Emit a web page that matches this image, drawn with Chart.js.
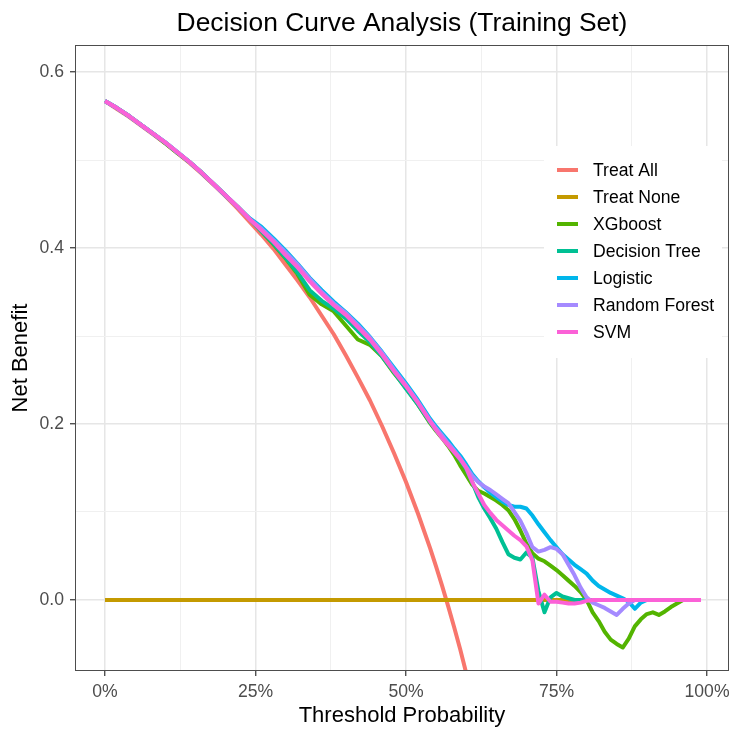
<!DOCTYPE html>
<html>
<head>
<meta charset="utf-8">
<script src="https://cdn.jsdelivr.net/npm/chart.js@4.4.1/dist/chart.umd.min.js"></script>
<style>
    html, body { margin: 0; padding: 0; background: #fff; }
    #wrap { width: 732px; height: 732px; }
</style>
</head>
<body>
<div id="wrap"><canvas id="dca-chart" width="732" height="732"></canvas></div>
<script>
// threshold probability (%) shared by the model curves
const thresholds = [0, 2, 4, 6, 8, 10, 12, 14, 16, 18, 20, 22, 24, 26, 28, 30, 32, 34, 36, 38, 40, 42, 44, 46, 48, 50, 52, 54,
    55, 56, 57, 58, 59, 60, 61, 62, 63, 64, 65, 66, 67, 68, 69, 70, 71, 72, 73, 74, 75, 76, 77, 78, 79,
    80, 81, 82, 83, 84, 85, 86, 87, 88, 89, 90, 91, 92, 93, 94, 95, 96, 97, 98, 99];

const treatAll = [0.567, 0.558, 0.549, 0.539, 0.529, 0.519, 0.508, 0.497, 0.485, 0.472, 0.459, 0.445, 0.430, 0.415,
    0.399, 0.381, 0.363, 0.344, 0.323, 0.302, 0.278, 0.253, 0.227, 0.198, 0.167, 0.134, 0.098, 0.059,
    0.038, 0.016, -0.007, -0.031, -0.056, -0.083, -0.110];

const treatNoneX = [0, 99];
const treatNone = [0, 0];

const xgboost = [0.567, 0.559, 0.550, 0.540, 0.530, 0.519, 0.508, 0.498, 0.486, 0.473, 0.460, 0.447, 0.433, 0.419,
    0.404, 0.388, 0.370, 0.347, 0.336, 0.328, 0.312, 0.296, 0.290, 0.277, 0.258, 0.241, 0.222, 0.201,
    0.192, 0.184, 0.175, 0.165, 0.153, 0.142, 0.131, 0.124, 0.121, 0.117, 0.113, 0.108, 0.102, 0.092, 0.079,
    0.064, 0.053, 0.047, 0.044, 0.039, 0.034, 0.028, 0.022, 0.016, 0.009, 0.000, -0.014, -0.024, -0.036,
    -0.045, -0.050, -0.054, -0.044, -0.030, -0.022, -0.016, -0.014, -0.017, -0.013, -0.008, -0.004, 0, 0, 0, 0];

const decisionTree = [0.567, 0.559, 0.550, 0.540, 0.530, 0.520, 0.509, 0.498, 0.486, 0.473, 0.460, 0.447, 0.433, 0.419,
    0.405, 0.389, 0.372, 0.352, 0.340, 0.331, 0.320, 0.306, 0.293, 0.277, 0.259, 0.240, 0.222, 0.202,
    0.193, 0.185, 0.177, 0.168, 0.159, 0.149, 0.134, 0.117, 0.104, 0.093, 0.081, 0.066, 0.052, 0.048, 0.046,
    0.054, 0.048, 0.010, -0.014, 0.003, 0.008, 0.004, 0.002, 0, 0, 0, 0, 0, 0, 0, 0, 0, 0, 0, 0, 0, 0, 0, 0,
    0, 0, 0, 0, 0, 0];

const logistic = [0.567, 0.559, 0.550, 0.540, 0.530, 0.520, 0.509, 0.498, 0.486, 0.473, 0.460, 0.447, 0.434, 0.424,
    0.411, 0.397, 0.382, 0.366, 0.352, 0.339, 0.327, 0.314, 0.299, 0.282, 0.264, 0.246, 0.227, 0.206,
    0.197, 0.189, 0.181, 0.172, 0.164, 0.154, 0.143, 0.135, 0.128, 0.122, 0.117, 0.112, 0.108, 0.106, 0.106,
    0.104, 0.096, 0.086, 0.077, 0.068, 0.060, 0.052, 0.046, 0.040, 0.035, 0.030, 0.022, 0.016, 0.012, 0.008,
    0.005, 0.002, -0.002, -0.010, -0.003, 0, 0, 0, 0, 0, 0, 0, 0, 0, 0];

const randomForest = [0.567, 0.559, 0.550, 0.540, 0.530, 0.520, 0.509, 0.498, 0.486, 0.473, 0.460, 0.447, 0.433, 0.422,
    0.409, 0.395, 0.381, 0.365, 0.350, 0.337, 0.326, 0.312, 0.298, 0.281, 0.262, 0.244, 0.225, 0.204,
    0.195, 0.187, 0.178, 0.170, 0.161, 0.151, 0.141, 0.134, 0.129, 0.125, 0.120, 0.115, 0.110, 0.100, 0.090,
    0.076, 0.060, 0.055, 0.057, 0.060, 0.058, 0.052, 0.040, 0.028, 0.014, 0.003, -0.003, -0.006, -0.009,
    -0.013, -0.017, -0.010, -0.004, 0, 0, 0, 0, 0, 0, 0, 0, 0, 0, 0, 0];

const svm = [0.567, 0.559, 0.550, 0.540, 0.530, 0.520, 0.509, 0.498, 0.486, 0.473, 0.460, 0.447, 0.433, 0.420,
    0.407, 0.392, 0.378, 0.362, 0.348, 0.335, 0.324, 0.310, 0.296, 0.279, 0.260, 0.243, 0.224, 0.203,
    0.193, 0.184, 0.176, 0.168, 0.160, 0.150, 0.134, 0.121, 0.108, 0.099, 0.091, 0.085, 0.079, 0.073, 0.068,
    0.061, 0.045, -0.004, 0.006, -0.002, -0.002, -0.003, -0.004, -0.004, -0.003, -0.001, 0, 0, 0, 0,
    0, 0, 0, 0, 0, 0, 0, 0, 0, 0, 0, 0, 0, 0, 0];

const seriesNames = ['Treat All', 'Treat None', 'XGboost', 'Decision Tree', 'Logistic', 'Random Forest', 'SVM'];
const seriesColors = ['#F8766D', '#C49A00', '#53B400', '#00C094', '#00B6EB', '#A58AFF', '#FB61D7'];

const xTickValues = [0, 12.5, 25, 37.5, 50, 62.5, 75, 87.5, 100];
const xMajor = [0, 25, 50, 75, 100];
const yTickValues = [0, 0.1, 0.2, 0.3, 0.4, 0.5, 0.6];
const yMajor = [0, 0.2, 0.4, 0.6];

const FONT = '"Liberation Sans", Arial, Helvetica, sans-serif';

function toPoints(xs, ys) {
    return ys.map((y, i) => ({ x: xs[i], y: y }));
}

const seriesData = [
    toPoints(thresholds, treatAll),
    toPoints(treatNoneX, treatNone),
    toPoints(thresholds, xgboost),
    toPoints(thresholds, decisionTree),
    toPoints(thresholds, logistic),
    toPoints(thresholds, randomForest),
    toPoints(thresholds, svm)
];

function isMajor(list, v) {
    return list.some((m) => Math.abs(m - v) < 1e-9);
}

// title, axis titles, panel border and the in-panel legend
const decorPlugin = {
    id: 'decor',
    afterDraw(chart) {
        const ctx = chart.ctx;
        const area = chart.chartArea;
        const midX = (area.left + area.right) / 2;
        const midY = (area.top + area.bottom) / 2;
        ctx.save();

        ctx.strokeStyle = '#4D4D4D';
        ctx.lineWidth = 1;
        ctx.strokeRect(area.left + 0.5, area.top + 0.5, area.right - area.left - 1, area.bottom - area.top - 1);

        ctx.fillStyle = '#000';
        ctx.textAlign = 'center';
        ctx.textBaseline = 'alphabetic';
        ctx.font = '26.4px ' + FONT;
        ctx.fillText('Decision Curve Analysis (Training Set)', midX, 31);

        ctx.font = '22px ' + FONT;
        ctx.fillText('Threshold Probability', midX, 722);

        ctx.save();
        ctx.translate(27, midY);
        ctx.rotate(-Math.PI / 2);
        ctx.fillText('Net Benefit', 0, 0);
        ctx.restore();

        // legend box inside the panel
        ctx.fillStyle = '#fff';
        ctx.fillRect(544, 146, 178, 212);
        ctx.font = '17.6px ' + FONT;
        ctx.textAlign = 'left';
        ctx.textBaseline = 'middle';
        seriesNames.forEach((name, i) => {
            const y = 170 + i * 27;
            ctx.strokeStyle = seriesColors[i];
            ctx.lineWidth = 4;
            ctx.beginPath();
            ctx.moveTo(557, y);
            ctx.lineTo(578, y);
            ctx.stroke();
            ctx.fillStyle = '#000';
            ctx.fillText(name, 593, y + 1);
        });
        ctx.restore();
    }
};

const datasets = seriesNames.map((name, i) => ({
    label: name,
    data: seriesData[i],
    borderColor: seriesColors[i],
    backgroundColor: seriesColors[i],
    borderWidth: 4,
    pointRadius: 0,
    tension: 0,
    fill: false,
    clip: 0,
    borderJoinStyle: 'round',
    order: seriesNames.length - 1 - i
}));

new Chart(document.getElementById('dca-chart').getContext('2d'), {
    type: 'line',
    data: { datasets: datasets },
    options: {
        responsive: false,
        animation: false,
        layout: { padding: { top: 45, right: 3, left: 0, bottom: 0 } },
        plugins: {
            legend: { display: false },
            tooltip: { enabled: false },
            title: { display: false }
        },
        scales: {
            x: {
                type: 'linear',
                min: -4.98,
                max: 103.65,
                afterBuildTicks: (scale) => { scale.ticks = xTickValues.map((v) => ({ value: v })); },
                afterFit: (scale) => {
                    scale.height = 61;
                    scale.paddingLeft = 0;
                    scale.paddingRight = 0;
                },
                border: { display: false },
                grid: {
                    color: (c) => isMajor(xMajor, c.tick.value) ? '#E6E6E6' : '#F0F0F0',
                    lineWidth: (c) => isMajor(xMajor, c.tick.value) ? 1.5 : 1,
                    tickLength: 5,
                    tickColor: (c) => isMajor(xMajor, c.tick.value) ? '#333333' : 'rgba(0,0,0,0)',
                    tickWidth: 1.2
                },
                ticks: {
                    autoSkip: false,
                    maxRotation: 0,
                    padding: 6,
                    color: '#4D4D4D',
                    font: { family: FONT, size: 17.6 },
                    callback: (v) => isMajor(xMajor, v) ? v + '%' : ''
                }
            },
            y: {
                type: 'linear',
                min: -0.0807,
                max: 0.6307,
                afterBuildTicks: (scale) => { scale.ticks = yTickValues.map((v) => ({ value: v })); },
                afterFit: (scale) => {
                    scale.width = 75;
                    scale.paddingTop = 0;
                    scale.paddingBottom = 0;
                },
                border: { display: false },
                grid: {
                    color: (c) => isMajor(yMajor, c.tick.value) ? '#E6E6E6' : '#F0F0F0',
                    lineWidth: (c) => isMajor(yMajor, c.tick.value) ? 1.5 : 1,
                    tickLength: 5,
                    tickColor: (c) => isMajor(yMajor, c.tick.value) ? '#333333' : 'rgba(0,0,0,0)',
                    tickWidth: 1.2
                },
                ticks: {
                    autoSkip: false,
                    padding: 6,
                    color: '#4D4D4D',
                    font: { family: FONT, size: 17.6 },
                    callback: (v) => isMajor(yMajor, v) ? v.toFixed(1) : ''
                }
            }
        }
    },
    plugins: [decorPlugin]
});
</script>
</body>
</html>
